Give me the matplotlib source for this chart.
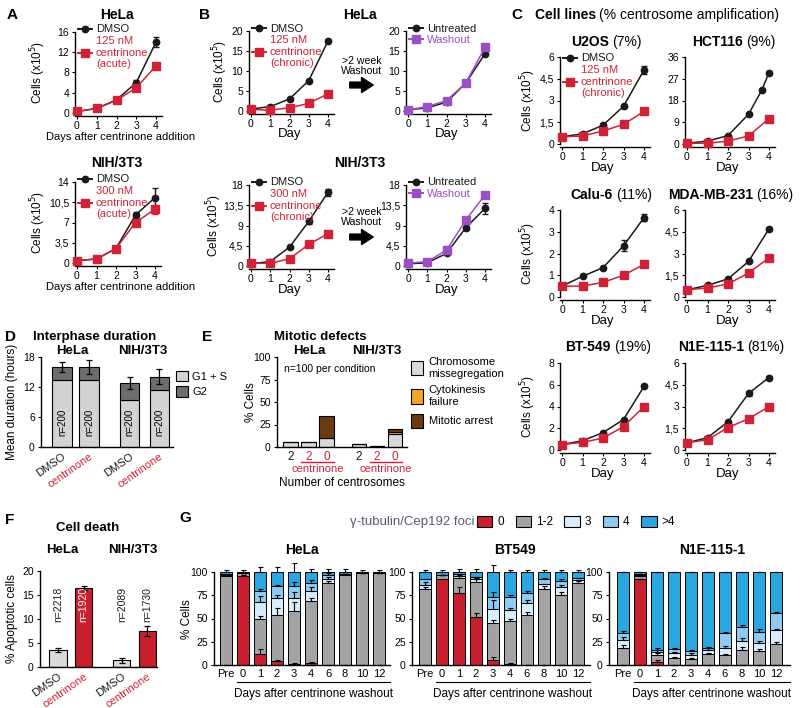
import matplotlib
matplotlib.use('Agg')
import matplotlib.pyplot as plt
import matplotlib.transforms as mtrans
from matplotlib.lines import Line2D
from matplotlib.patches import Patch, FancyArrowPatch

plt.rcParams['font.family'] = ['Liberation Sans Narrow', 'Liberation Sans', 'DejaVu Sans']
plt.rcParams['axes.linewidth'] = 1.0
plt.rcParams['xtick.major.size'] = 2.5
plt.rcParams['ytick.major.size'] = 2.5
plt.rcParams['xtick.labelsize'] = 7.5
plt.rcParams['ytick.labelsize'] = 7.5
plt.rcParams['xtick.major.pad'] = 1
plt.rcParams['ytick.major.pad'] = 2

BLACK = '#1a1a1a'
RED = '#cf2236'
PURPLE = '#9a4fc4'

# ---------------- data ----------------
days = [0, 1, 2, 3, 4]
no_err = [0, 0, 0, 0, 0]

# A: acute treatment
hela_acute_dmso = [0.3, 0.9, 2.6, 6.0, 14.0]
hela_acute_dmso_err = [0, 0, 0, 0.5, 1.0]
hela_acute_cent = [0.3, 0.9, 2.5, 5.0, 9.3]
nih_acute_dmso = [0.4, 0.7, 2.5, 8.3, 11.3]
nih_acute_dmso_err = [0, 0, 0, 0.5, 1.6]
nih_acute_cent = [0.4, 0.7, 2.5, 7.0, 9.3]
nih_acute_cent_err = [0, 0, 0, 0.4, 0.8]

# B: chronic treatment and washout
hela_chronic_dmso = [0.5, 1.1, 3.0, 7.6, 17.5]
hela_chronic_cent = [0.4, 0.2, 0.8, 1.9, 4.3]
hela_untreated = [0.3, 0.8, 2.2, 7.0, 14.3]
hela_washout = [0.3, 1.1, 2.6, 7.0, 15.9]
nih_chronic_dmso = [0.5, 1.0, 4.2, 9.9, 16.4]
nih_chronic_dmso_err = [0, 0, 0, 0.5, 0.8]
nih_chronic_cent = [0.6, 0.6, 1.6, 4.8, 7.2]
nih_untreated = [0.5, 0.7, 2.8, 8.5, 12.8]
nih_untreated_err = [0, 0, 0, 0.5, 1.2]
nih_washout = [0.6, 1.0, 3.5, 10.2, 15.8]
nih_washout_err = [0, 0, 0, 0.4, 0.7]

# C: cell lines
u2os_dmso = [0.5, 0.7, 1.3, 2.6, 5.1]
u2os_dmso_err = [0, 0, 0, 0.1, 0.3]
u2os_cent = [0.5, 0.55, 0.9, 1.35, 2.25]
hct_days_dmso = [0, 1, 2, 3, 3.65, 4]
hct_dmso = [0.3, 1.2, 3.5, 12.3, 22.3, 29.5]
hct_cent = [0.3, 0.3, 1.2, 3.3, 10.5]
calu_dmso = [0.5, 0.95, 1.35, 2.35, 3.65]
calu_dmso_err = [0, 0, 0, 0.25, 0.15]
calu_cent = [0.5, 0.5, 0.67, 1.0, 1.5]
mda_dmso = [0.5, 0.8, 1.25, 2.45, 4.7]
mda_cent = [0.5, 0.62, 0.9, 1.65, 2.7]
bt_dmso = [0.5, 0.85, 1.6, 2.8, 5.85]
bt_cent = [0.5, 0.7, 1.1, 2.15, 4.0]
n1e_dmso = [0.5, 0.85, 1.95, 3.9, 5.0]
n1e_dmso_err = [0, 0, 0, 0.15, 0.1]
n1e_cent = [0.5, 0.7, 1.55, 2.15, 3.0]

# D: interphase duration (hours)
d_labels = ['DMSO', 'centrinone', 'DMSO', 'centrinone']
d_g1s = [13.5, 13.5, 9.4, 11.5]
d_g2 = [2.5, 2.5, 3.4, 2.6]
d_err = [1.0, 1.4, 1.2, 1.5]

# E: mitotic defects (% cells)
e_labels = ['2', '2', '0', '2', '2', '0']
e_misseg = [6, 6, 10, 3, 1, 15]
e_cytok = [0, 0, 0, 0, 0, 2]
e_arrest = [0, 0, 24, 0, 0, 3]

# F: apoptosis
f_labels = ['DMSO', 'centrinone', 'DMSO', 'centrinone']
f_vals = [3.6, 16.5, 1.4, 7.5]
f_err = [0.4, 0.4, 0.5, 1.1]
f_n = ['n=2218', 'n=1920', 'n=2089', 'n=1730']

# G: foci after washout
g_days = ['Pre', '0', '1', '2', '3', '4', '6', '8', '10', '12']
foci_labels = ['0', '1-2', '3', '4', '>4']
foci_colors = ['#c8202f', '#a3a3a3', '#d8ecfa', '#8fcaf0', '#2aa7e1']

hela_f0 = [0, 96, 12, 4, 1, 2, 0, 0, 0, 0]
hela_f12 = [96, 3, 37, 50, 57, 67, 88, 97, 99, 99]
hela_f3 = [1, 0, 19, 18, 14, 11, 5, 1, 0, 0]
hela_f4 = [1, 0, 12, 13, 13, 8, 4, 0, 0, 0]
hela_fgt4 = [2, 1, 20, 15, 15, 12, 3, 2, 1, 1]
hela_e0 = [0, 1, 5, 1.5, 1.5, 1, 0, 0, 0, 0]
hela_e12 = [1, 0, 4, 7, 10, 3, 2, 1, 0, 0]
hela_e3 = [0, 0, 6, 3, 6, 4, 2, 0, 0, 0]
hela_e4 = [0, 0, 2, 1, 4, 3, 2, 0, 0, 0]
hela_egt4 = [2, 2, 5, 5, 10, 3, 3, 3, 2, 2]

bt_f0 = [0, 92, 77, 52, 5, 1, 0, 0, 0, 0]
bt_f12 = [82, 5, 17, 37, 40, 46, 54, 82, 75, 88]
bt_f3 = [4, 0, 2, 3, 15, 12, 13, 5, 9, 3]
bt_f4 = [6, 0, 2, 3, 13, 14, 10, 5, 6, 3]
bt_fgt4 = [8, 3, 2, 5, 27, 27, 23, 8, 10, 6]
bt_e0 = [0, 1, 7, 4, 4, 1, 0, 0, 0, 0]
bt_e12 = [2, 0, 3, 3, 3, 2, 3, 3, 3, 2]
bt_e3 = [3, 0, 0, 2, 10, 2, 3, 0, 2, 0]
bt_e4 = [0, 0, 0, 0, 6, 2, 3, 2, 2, 0]
bt_egt4 = [2, 2, 3, 3, 8, 2, 2, 2, 2, 2]

n1e_f0 = [0, 92, 3, 0, 0, 0, 0, 0, 0, 0]
n1e_f12 = [18, 4, 8, 8, 6, 12, 11, 16, 15, 23]
n1e_f3 = [9, 1, 3, 5, 5, 4, 7, 10, 9, 15]
n1e_f4 = [7, 1, 2, 4, 4, 2, 16, 15, 12, 18]
n1e_fgt4 = [66, 2, 84, 83, 85, 82, 66, 59, 64, 44]
n1e_e0 = [0, 1, 2, 0, 0, 0, 0, 0, 0, 0]
n1e_e12 = [3, 0, 2, 1, 2, 1, 1, 3, 2, 2]
n1e_e3 = [3, 0, 2, 1, 2, 2, 2, 3, 2, 1]
n1e_e4 = [3, 0, 2, 1, 1, 1, 2, 2, 3, 1]
n1e_egt4 = [0, 0, 0, 0, 0, 0, 0, 0, 0, 0]

# ---------------- figure ----------------
W, H = 800, 708
fig = plt.figure(figsize=(8, 7.08), dpi=100)


def box(l, t, r, b):
    return fig.add_axes([l / W, 1 - b / H, (r - l) / W, (b - t) / H])


def ftext(x, y, s, **kw):
    kw.setdefault('ha', 'center')
    kw.setdefault('va', 'center')
    fig.text(x / W, 1 - y / H, s, **kw)


def clean(ax):
    ax.spines['top'].set_visible(False)
    ax.spines['right'].set_visible(False)


def growth(x0, x4, ytop, y0, ymax, ticks, labels, series, legend=None, lpos=(0.03, 1.09)):
    ppu = (x4 - x0) / 4.0
    ax = box(x0 - 0.08 * ppu, ytop, x4 + 0.3 * ppu, y0 + 3)
    ax.set_xlim(-0.08, 4.3)
    ax.set_ylim(-3.0 * ymax / (y0 - ytop), ymax)
    clean(ax)
    ax.spines['left'].set_bounds(0, ymax)
    handles = []
    for xs, ys, err, color, marker in series:
        ms = 5.2 if marker == 's' else 4.6
        ax.errorbar(xs, ys, yerr=err, color=color, marker=marker, ms=ms, lw=1.1,
                    capsize=2, elinewidth=1, clip_on=False, zorder=3)
        handles.append(Line2D([], [], color=color, marker=marker, ms=ms, lw=1.4))
    ax.set_xticks(days)
    ax.set_yticks(ticks, labels)
    if legend:
        ax.legend(handles, legend, loc='upper left', bbox_to_anchor=lpos,
                  frameon=False, fontsize=8, handlelength=1.3, handletextpad=0.3,
                  labelspacing=0.15, borderaxespad=0, borderpad=0,
                  labelcolor='linecolor', numpoints=1)
    return ax


# ----- A -----
ftext(12, 15, 'A', fontsize=11, weight='bold')
ftext(117, 15, 'HeLa', fontsize=10, weight='bold')
growth(77, 156, 32, 113, 16, [0, 4, 8, 12, 16], ['0', '4', '8', '12', '16'],
       [(days, hela_acute_dmso, hela_acute_dmso_err, BLACK, 'o'),
        (days, hela_acute_cent, no_err, RED, 's')],
       ['DMSO', '125 nM\ncentrinone\n(acute)'])
ftext(38, 72, 'Cells (x10$^5$)', fontsize=8.5, rotation=90)
ftext(121, 137, 'Days after centrinone addition', fontsize=8)

ftext(117, 163, 'NIH/3T3', fontsize=10, weight='bold')
growth(77, 155, 182, 263, 14, [0, 3.5, 7, 10.5, 14], ['0', '3,5', '7', '10,5', '14'],
       [(days, nih_acute_dmso, nih_acute_dmso_err, BLACK, 'o'),
        (days, nih_acute_cent, nih_acute_cent_err, RED, 's')],
       ['DMSO', '300 nM\ncentrinone\n(acute)'])
ftext(38, 222, 'Cells (x10$^5$)', fontsize=8.5, rotation=90)
ftext(121, 287, 'Days after centrinone addition', fontsize=8)

# ----- B -----
ftext(205, 15, 'B', fontsize=11, weight='bold')
ftext(360, 15, 'HeLa', fontsize=10, weight='bold')
growth(251, 328, 31, 111, 20, [0, 5, 10, 15, 20], ['0', '5', '10', '15', '20'],
       [(days, hela_chronic_dmso, no_err, BLACK, 'o'),
        (days, hela_chronic_cent, no_err, RED, 's')],
       ['DMSO', '125 nM\ncentrinone\n(chronic)'])
growth(408, 485, 31, 111, 20, [0, 5, 10, 15, 20], ['0', '5', '10', '15', '20'],
       [(days, hela_untreated, no_err, BLACK, 'o'),
        (days, hela_washout, no_err, PURPLE, 's')],
       ['Untreated', 'Washout'])
ftext(220, 71, 'Cells (x10$^5$)', fontsize=8.5, rotation=90)
ftext(290, 134, 'Day', fontsize=9.5)
ftext(447, 134, 'Day', fontsize=9.5)
ftext(362, 66, '>2 week\nWashout', fontsize=7.6, linespacing=1.1)

ftext(360, 163, 'NIH/3T3', fontsize=10, weight='bold')
growth(251, 328, 185, 266, 18, [0, 4.5, 9, 13.5, 18], ['0', '4,5', '9', '13,5', '18'],
       [(days, nih_chronic_dmso, nih_chronic_dmso_err, BLACK, 'o'),
        (days, nih_chronic_cent, no_err, RED, 's')],
       ['DMSO', '300 nM\ncentrinone\n(chronic)'])
growth(408, 485, 185, 266, 18, [0, 4.5, 9, 13.5, 18], ['0', '4,5', '9', '13,5', '18'],
       [(days, nih_untreated, nih_untreated_err, BLACK, 'o'),
        (days, nih_washout, nih_washout_err, PURPLE, 's')],
       ['Untreated', 'Washout'])
ftext(214, 225, 'Cells (x10$^5$)', fontsize=8.5, rotation=90)
ftext(290, 290, 'Day', fontsize=9.5)
ftext(447, 290, 'Day', fontsize=9.5)
ftext(362, 217, '>2 week\nWashout', fontsize=7.6, linespacing=1.1)

for ya in (85, 237):
    fig.add_artist(FancyArrowPatch((347 / W, 1 - ya / H), (376 / W, 1 - ya / H),
                                   transform=fig.transFigure, color='k',
                                   arrowstyle='simple,head_length=0.7,head_width=0.9,tail_width=0.35',
                                   mutation_scale=12))

# ----- C -----
ftext(517, 15, 'C', fontsize=11, weight='bold')
ftext(596, 15, 'Cell lines', fontsize=10, weight='bold', ha='right')
ftext(599, 15, '(% centrosome amplification)', fontsize=10, ha='left')


def ctitle(xs, y, bold, rest):
    ftext(xs, y, bold, fontsize=10, weight='bold', ha='right')
    ftext(xs + 3, y, rest, fontsize=10, ha='left')


ctitle(609, 42, 'U2OS', '(7%)')
growth(562, 644, 57, 144, 6, [0, 1.5, 3, 4.5, 6], ['0', '1,5', '3', '4,5', '6'],
       [(days, u2os_dmso, u2os_dmso_err, BLACK, 'o'),
        (days, u2os_cent, no_err, RED, 's')],
       ['DMSO', '125 nM\ncentrinone\n(chronic)'], lpos=(0.03, 1.04))
ctitle(743, 42, 'HCT116', '(9%)')
growth(687, 769, 57, 144, 36, [0, 9, 18, 27, 36], ['0', '9', '18', '27', '36'],
       [(hct_days_dmso, hct_dmso, [0] * 6, BLACK, 'o'),
        (days, hct_cent, no_err, RED, 's')])

ctitle(613, 195, 'Calu-6', '(11%)')
growth(562, 644, 210, 297, 4, [0, 1, 2, 3, 4], ['0', '1', '2', '3', '4'],
       [(days, calu_dmso, calu_dmso_err, BLACK, 'o'),
        (days, calu_cent, no_err, RED, 's')])
ctitle(753, 195, 'MDA-MB-231', '(16%)')
growth(687, 769, 210, 297, 6, [0, 1.5, 3, 4.5, 6], ['0', '1,5', '3', '4,5', '6'],
       [(days, mda_dmso, no_err, BLACK, 'o'),
        (days, mda_cent, no_err, RED, 's')])

ctitle(611, 347, 'BT-549', '(19%)')
growth(562, 644, 363, 450, 8, [0, 2, 4, 6, 8], ['0', '2', '4', '6', '8'],
       [(days, bt_dmso, no_err, BLACK, 'o'),
        (days, bt_cent, no_err, RED, 's')])
ctitle(744, 347, 'N1E-115-1', '(81%)')
growth(687, 769, 363, 450, 6, [0, 1.5, 3, 4.5, 6], ['0', '1,5', '3', '4,5', '6'],
       [(days, n1e_dmso, n1e_dmso_err, BLACK, 'o'),
        (days, n1e_cent, no_err, RED, 's')])

for yc in (100, 253, 406):
    ftext(528, yc, 'Cells (x10$^5$)', fontsize=8.5, rotation=90)
for yd in (168, 321, 474):
    ftext(603, yd, 'Day', fontsize=9.5)
    ftext(728, yd, 'Day', fontsize=9.5)

# ----- D -----
ftext(10, 337, 'D', fontsize=11, weight='bold')
ftext(95, 337, 'Interphase duration', fontsize=9.5, weight='bold')
ftext(72, 351, 'HeLa', fontsize=9.5, weight='bold')
ftext(143, 351, 'NIH/3T3', fontsize=9.5, weight='bold')
axD = box(41, 357, 173, 447)
d_x = [0, 1, 2.5, 3.6]
axD.bar(d_x, d_g1s, 0.72, color='#d3d3d3', edgecolor='k', lw=0.8, label='G1 + S')
axD.bar(d_x, d_g2, 0.72, bottom=d_g1s, color='#6d6d6d', edgecolor='k', lw=0.8, label='G2',
        yerr=d_err, capsize=2, error_kw={'elinewidth': 0.9, 'capthick': 0.9})
axD.set_xlim(-0.78, 4.11)
axD.set_ylim(0, 18)
clean(axD)
axD.set_yticks([0, 6, 12, 18])
axD.set_xticks(d_x, d_labels, rotation=35, ha='right', rotation_mode='anchor', fontsize=8)
axD.tick_params(axis='x', length=0, pad=3)
for lab, c in zip(axD.get_xticklabels(), [BLACK, RED, BLACK, RED]):
    lab.set_color(c)
for x in d_x:
    axD.text(x, 5, 'n=200', rotation=90, ha='center', va='center', fontsize=7)
axD.legend(loc='upper left', bbox_to_anchor=(1.02, 0.85), frameon=False, fontsize=8,
           handlelength=1.1, handleheight=1.1, handletextpad=0.4, labelspacing=0.4,
           borderaxespad=0, borderpad=0)
ftext(12, 402, 'Mean duration (hours)', fontsize=8.5, rotation=90)

# ----- E -----
ftext(207, 337, 'E', fontsize=11, weight='bold')
ftext(320, 337, 'Mitotic defects', fontsize=9.5, weight='bold')
ftext(309, 351, 'HeLa', fontsize=9.5, weight='bold')
ftext(377, 351, 'NIH/3T3', fontsize=9.5, weight='bold')
axE = box(277, 357, 407, 447)
e_x = [0, 1, 2, 3.8, 4.8, 5.8]
e_bottom2 = [a + b for a, b in zip(e_misseg, e_cytok)]
axE.bar(e_x, e_misseg, 0.78, color='#d9d9d9', edgecolor='k', lw=0.8, label='Chromosome\nmissegregation')
axE.bar(e_x, e_cytok, 0.78, bottom=e_misseg, color='#f6a623', edgecolor='k', lw=0.8, label='Cytokinesis\nfailure')
axE.bar(e_x, e_arrest, 0.78, bottom=e_bottom2, color='#6b3a12', edgecolor='k', lw=0.8, label='Mitotic arrest')
axE.set_xlim(-0.75, 6.47)
axE.set_ylim(0, 100)
clean(axE)
axE.set_yticks([0, 25, 50, 75, 100])
axE.set_xticks(e_x, e_labels, fontsize=8.5)
axE.tick_params(axis='x', length=0, pad=3)
for lab, c in zip(axE.get_xticklabels(), [BLACK, RED, RED, BLACK, RED, RED]):
    lab.set_color(c)
axE.text(0.05, 0.87, 'n=100 per condition', transform=axE.transAxes, fontsize=7.5,
         ha='left', va='center')
axE.legend(loc='upper left', bbox_to_anchor=(1.03, 1.0), frameon=False, fontsize=8,
           handlelength=1.1, handleheight=1.6, handletextpad=0.5, labelspacing=0.6,
           borderaxespad=0, borderpad=0)
tE = mtrans.blended_transform_factory(axE.transData, axE.transAxes)
for xa, xb in ((0.6, 2.4), (4.4, 6.2)):
    axE.plot([xa, xb], [-0.165, -0.165], color=RED, lw=1, transform=tE, clip_on=False)
    axE.text((xa + xb) / 2, -0.25, 'centrinone', color=RED, fontsize=8, ha='center',
             va='center', transform=tE)
ftext(342, 483, 'Number of centrosomes', fontsize=8.5)
ftext(251, 402, '% Cells', fontsize=8.5, rotation=90)

# ----- F -----
ftext(10, 520, 'F', fontsize=11, weight='bold')
ftext(88, 528, 'Cell death', fontsize=9.5, weight='bold')
ftext(62, 550, 'HeLa', fontsize=9.5, weight='bold')
ftext(133, 550, 'NIH/3T3', fontsize=9.5, weight='bold')
axF = box(40, 571, 157, 667)
f_x = [0, 1, 2.5, 3.5]
axF.bar(f_x, f_vals, 0.68, color=['#d9d9d9', '#c8202f', '#d9d9d9', '#c8202f'],
        edgecolor='k', lw=0.8, yerr=f_err, capsize=2,
        error_kw={'elinewidth': 0.9, 'capthick': 0.9})
axF.set_xlim(-0.71, 3.88)
axF.set_ylim(0, 20)
clean(axF)
axF.set_yticks([0, 5, 10, 15, 20])
axF.set_xticks(f_x, f_labels, rotation=35, ha='right', rotation_mode='anchor', fontsize=8)
axF.tick_params(axis='x', length=0, pad=3)
for lab, c in zip(axF.get_xticklabels(), [BLACK, RED, BLACK, RED]):
    lab.set_color(c)
for x, s, c in zip(f_x, f_n, [BLACK, 'white', BLACK, BLACK]):
    axF.text(x, 13, s, rotation=90, ha='center', va='center', fontsize=7.5, color=c)
ftext(12, 619, '% Apoptotic cells', fontsize=8.5, rotation=90)

# ----- G -----
ftext(185, 518, 'G', fontsize=11, weight='bold')
ftext(474, 522, '\u03b3-tubulin/Cep192 foci', fontsize=9.5, color='#585c70', ha='right')
fig.legend([Patch(fc=c, ec='k', lw=0.8) for c in foci_colors], foci_labels, ncol=5,
           loc='center left', bbox_to_anchor=(477 / W, 1 - 522 / H), frameon=False,
           fontsize=8.5, handlelength=1.3, handleheight=1.1, columnspacing=1.0,
           handletextpad=0.4, borderaxespad=0, borderpad=0)


def foci(l, r, first, comps, errs, title, tx):
    ax = box(l, 572, r, 665)
    xs = list(range(len(g_days)))
    bottom = [0] * len(xs)
    for vals, err, col in zip(comps, errs, foci_colors):
        ax.bar(xs, vals, 0.7, bottom=bottom, color=col, edgecolor='k', lw=0.7, zorder=2)
        top = [b + v for b, v in zip(bottom, vals)]
        ax.errorbar(xs, top, yerr=[[0] * len(xs), err], fmt='none', ecolor='k',
                    elinewidth=0.8, capsize=1.8, capthick=0.8, clip_on=False, zorder=3)
        bottom = top
    ax.set_xlim((l - first) / 17.0, (r - first) / 17.0)
    ax.set_ylim(0, 100)
    clean(ax)
    ax.set_yticks([0, 25, 50, 75, 100])
    ax.set_xticks(xs, g_days, fontsize=8)
    ax.tick_params(axis='x', length=0, pad=3)
    t = mtrans.blended_transform_factory(ax.transData, ax.transAxes)
    ax.plot([0.62, ax.get_xlim()[1]], [-0.185, -0.185], color='k', lw=0.8,
            transform=t, clip_on=False)
    ax.text((0.62 + ax.get_xlim()[1]) / 2, -0.31, 'Days after centrinone washout',
            transform=t, fontsize=8.5, ha='center', va='center')
    ftext(tx, 550, title, fontsize=10, weight='bold')
    return ax


foci(214, 390, 226, [hela_f0, hela_f12, hela_f3, hela_f4, hela_fgt4],
     [hela_e0, hela_e12, hela_e3, hela_e4, hela_egt4], 'HeLa', 302)
foci(412, 590, 425, [bt_f0, bt_f12, bt_f3, bt_f4, bt_fgt4],
     [bt_e0, bt_e12, bt_e3, bt_e4, bt_egt4], 'BT549', 515)
foci(609, 790, 623, [n1e_f0, n1e_f12, n1e_f3, n1e_f4, n1e_fgt4],
     [n1e_e0, n1e_e12, n1e_e3, n1e_e4, n1e_egt4], 'N1E-115-1', 712)
ftext(187, 619, '% Cells', fontsize=8.5, rotation=90)

fig.savefig('out.png', dpi=100)
